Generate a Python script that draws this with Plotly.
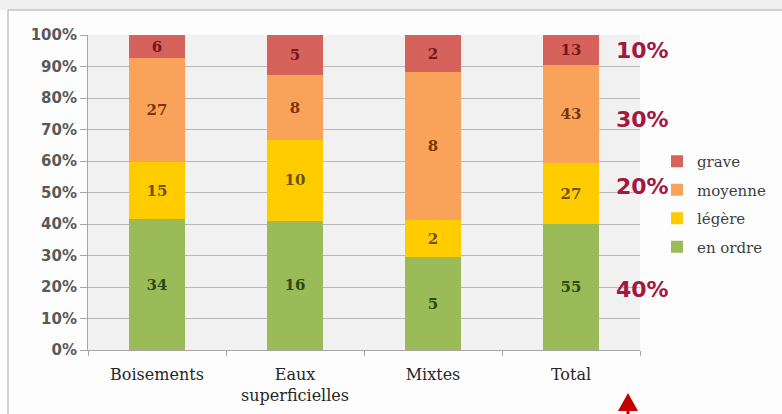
import plotly.graph_objects as go

categories = ["Boisements", "Eaux<br>superficielles", "Mixtes", "Total"]
series_names = ["en ordre", "légère", "moyenne", "grave"]
en_ordre = [34, 16, 5, 55]
legere = [15, 10, 2, 27]
moyenne = [27, 8, 8, 43]
grave = [6, 5, 2, 13]
side_labels = ["10%", "30%", "20%", "40%"]
side_label_y = [50, 119, 186, 289]  # pixel rows of the side labels

values = [en_ordre, legere, moyenne, grave]
bar_colors = ["#9bbb59", "#ffcc00", "#f9a35a", "#d6625c"]
text_colors = ["#2d4a0e", "#6b5300", "#7a3608", "#7a1616"]

W, H = 782, 414
L, R, T, B = 88, 142, 35, 64
pw, ph = W - L - R, H - T - B


def px_x(x):
    return (x - L) / pw


def px_y(y):
    return (H - B - y) / ph


fig = go.Figure()
for i, (name, vals) in enumerate(zip(series_names, values)):
    fig.add_trace(go.Bar(
        x=categories, y=vals, name=name,
        marker=dict(color=bar_colors[i], line=dict(width=0)),
        text=[str(v) for v in vals], textposition="inside",
        insidetextanchor="middle", textangle=0,
        constraintext="none",
        textfont=dict(family="DejaVu Serif", size=15, color=text_colors[i], weight="bold"),
        legendgroup=name, legendrank=len(series_names) - i,
        hoverinfo="skip",
    ))

annotations = []
for lab, yy in zip(side_labels, side_label_y):
    annotations.append(dict(
        x=px_x(614), y=px_y(yy), xref="paper", yref="paper",
        text=lab, showarrow=False, xanchor="left", yanchor="middle",
        font=dict(family="DejaVu Sans", size=22, color="#a3183f", weight="bold"),
    ))

shapes = [
    # frame band and lines
    dict(type="rect", xref="paper", yref="paper", x0=px_x(0), x1=px_x(W), y0=px_y(10), y1=px_y(0),
         fillcolor="#f0f0f0", line=dict(width=0), layer="below"),
    dict(type="line", xref="paper", yref="paper", x0=px_x(8), x1=px_x(W), y0=px_y(10), y1=px_y(10),
         line=dict(color="#c4c4c4", width=1.5)),
    dict(type="line", xref="paper", yref="paper", x0=px_x(8), x1=px_x(8), y0=px_y(10), y1=px_y(H),
         line=dict(color="#c4c4c4", width=1.5)),
    # red arrow
    dict(type="path", xref="paper", yref="paper",
         path=f"M {px_x(628)},{px_y(393)} L {px_x(638)},{px_y(411)} L {px_x(618)},{px_y(411)} Z",
         fillcolor="#c40000", line=dict(width=0)),
    dict(type="rect", xref="paper", yref="paper", x0=px_x(626.5), x1=px_x(629.5), y0=px_y(H), y1=px_y(410),
         fillcolor="#c40000", line=dict(width=0)),
]

fig.update_layout(
    width=W, height=H,
    margin=dict(l=L, r=R, t=T, b=B, pad=0, autoexpand=False),
    barmode="stack", barnorm="percent", bargap=0.59,
    paper_bgcolor="#fdfdfd", plot_bgcolor="#f1f1f1",
    showlegend=True,
    legend=dict(
        x=px_x(657), y=px_y(145), xref="paper", yref="paper",
        xanchor="left", yanchor="top", traceorder="grouped",
        font=dict(family="DejaVu Serif", size=15, color="#404040"),
        bgcolor="rgba(0,0,0,0)", tracegroupgap=6, itemwidth=30,
    ),
    xaxis=dict(
        type="category", tickson="boundaries", ticks="outside", ticklen=5,
        tickcolor="#a6a6a6", showline=True, linecolor="#a6a6a6", linewidth=1,
        showgrid=False, ticklabelstandoff=10,
        tickfont=dict(family="DejaVu Serif", size=16, color="#262626"),
    ),
    yaxis=dict(
        range=[0, 100], tickvals=list(range(0, 101, 10)),
        ticktext=[f"{v}%" for v in range(0, 101, 10)],
        ticks="outside", ticklen=7, tickcolor="#a6a6a6",
        showline=True, linecolor="#a6a6a6", linewidth=1,
        showgrid=True, gridcolor="#b8b8b8", gridwidth=1, zeroline=False,
        tickfont=dict(family="DejaVu Sans", size=15, color="#595959", weight="bold"),
    ),
    annotations=annotations,
    shapes=shapes,
)

fig.write_html("out.html")
